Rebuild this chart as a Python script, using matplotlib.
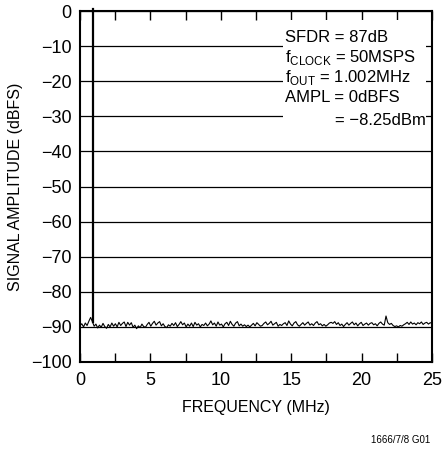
import numpy as np
import matplotlib
matplotlib.use('Agg')
import matplotlib.pyplot as plt
from matplotlib.patches import Rectangle
from matplotlib.ticker import MultipleLocator

plt.rcParams['font.family'] = ['Liberation Sans', 'DejaVu Sans']

# noise floor (dBFS), evenly spaced from 0 to 25 MHz
noise_amp = [
    -89.7, -89.1, -90.0, -88.9, -89.6, -88.4, -87.3, -88.5, -89.8, -89.2,
    -90.3, -89.5, -90.1, -89.0, -89.9, -90.4, -89.3, -90.0, -88.9, -89.8,
    -89.1, -90.0, -88.7, -89.6, -89.0, -88.6, -89.9, -88.7, -89.5, -88.8,
    -90.1, -89.5, -90.5, -89.7, -90.2, -89.2, -89.9, -90.1, -89.3, -88.7,
    -89.8, -89.0, -88.4, -89.5, -88.9, -88.5, -89.7, -89.1, -89.9, -90.2,
    -89.4, -89.8, -89.0, -89.6, -88.8, -89.9, -89.3, -88.5, -89.4, -88.9,
    -90.0, -89.2, -89.8, -88.9, -89.9, -88.7, -89.5, -89.1, -90.0, -89.3,
    -89.6, -88.9, -89.7, -89.2, -88.3, -89.4, -88.9, -89.8, -88.6, -89.5,
    -89.2, -90.0, -89.1, -88.7, -89.6, -88.4, -89.3, -89.8, -88.9, -88.5,
    -89.7, -89.2, -89.8, -89.4, -89.9, -89.5, -90.0, -89.5, -89.0, -89.7,
    -88.8, -89.3, -89.8, -89.6, -89.0, -88.6, -89.4, -89.0, -88.4, -89.5,
    -89.1, -88.7, -89.8, -89.3, -89.6, -89.1, -88.8, -89.6, -88.3, -89.2,
    -89.7, -88.9, -88.5, -89.4, -89.8, -89.3, -88.8, -89.5, -89.0, -88.6,
    -89.5, -89.1, -89.6, -88.9, -88.5, -89.4, -89.1, -89.7, -89.3, -89.8,
    -89.4, -88.9, -88.7, -89.0, -88.5, -89.3, -88.8, -89.6, -89.2, -89.9,
    -89.3, -88.8, -89.5, -89.0, -88.6, -89.4, -88.9, -89.7, -89.1, -88.7,
    -89.6, -89.2, -88.9, -89.5, -89.0, -88.8, -89.4, -89.1, -89.7, -89.0,
    -88.6, -89.2, -89.5, -86.9, -88.8, -89.3, -89.0, -89.6, -89.9, -89.7,
    -90.0, -89.6, -89.8, -89.4, -89.1, -88.7, -89.3, -88.6, -89.2, -88.9,
    -89.4, -88.8, -89.1, -88.6, -89.3, -88.9, -88.7, -89.2, -88.8, -89.0,
]
noise_freq = np.linspace(0, 25, len(noise_amp))

# fundamental tone
tone_freq = [0.9, 0.9]
tone_amp = [-88.5, 0.6]

ytick_vals = list(range(-100, 1, 10))
ytick_labels = ['\u2212100', '\u221290', '\u221280', '\u221270', '\u221260', '\u221250',
                '\u221240', '\u221230', '\u221220', '\u221210', '0']

fig = plt.figure(figsize=(4.43, 4.51), dpi=100)
ax = fig.add_axes([80/443, 89/451, 352/443, 351/451])

ax.plot(noise_freq, noise_amp, color='black', lw=0.8, zorder=2)
ax.plot(tone_freq, tone_amp, color='black', lw=1.6, zorder=2, clip_on=False)

ax.set_xlim(0, 25)
ax.set_ylim(-100, 0)
ax.xaxis.set_major_locator(MultipleLocator(5))
ax.xaxis.set_minor_locator(MultipleLocator(2.5))
ax.tick_params(axis='x', which='both', direction='in', length=6.5, width=1,
               top=True, bottom=True, labelsize=13, pad=7)
ax.tick_params(axis='y', length=0, labelsize=13, pad=6)
ax.set_yticks(ytick_vals)
ax.set_yticklabels(ytick_labels)
ax.set_axisbelow(True)
ax.grid(axis='y', color='black', lw=0.9)
for s in ax.spines.values():
    s.set_linewidth(1.5)

ax.set_xlabel('FREQUENCY (MHz)', fontsize=11.5, labelpad=8)
ax.set_ylabel('SIGNAL AMPLITUDE (dBFS)', fontsize=11.5, labelpad=6)

# white box behind the annotation
ax.add_patch(Rectangle((14.4, -34.0), 10.2, 31.5, facecolor='white',
                       edgecolor='none', zorder=1))

fs = 12
x0 = 14.55
ax.text(x0, -8.7, 'SFDR = 87dB', fontsize=fs, va='baseline', zorder=3)
ax.text(x0, -14.4, r'f$_{\mathregular{CLOCK}}$ = 50MSPS', fontsize=fs, va='baseline', zorder=3)
ax.text(x0, -20.1, r'f$_{\mathregular{OUT}}$ = 1.002MHz', fontsize=fs, va='baseline', zorder=3)
ax.text(x0, -25.9, 'AMPL = 0dBFS', fontsize=fs, va='baseline', zorder=3)
ax.text(24.55, -32.5, '= \u22128.25dBm', fontsize=fs, va='baseline', ha='right', zorder=3)

fig.text(430/443, 1 - 443/451, '1666/7/8 G01', fontsize=7, ha='right', va='baseline')

fig.savefig('out.png', dpi=100)
